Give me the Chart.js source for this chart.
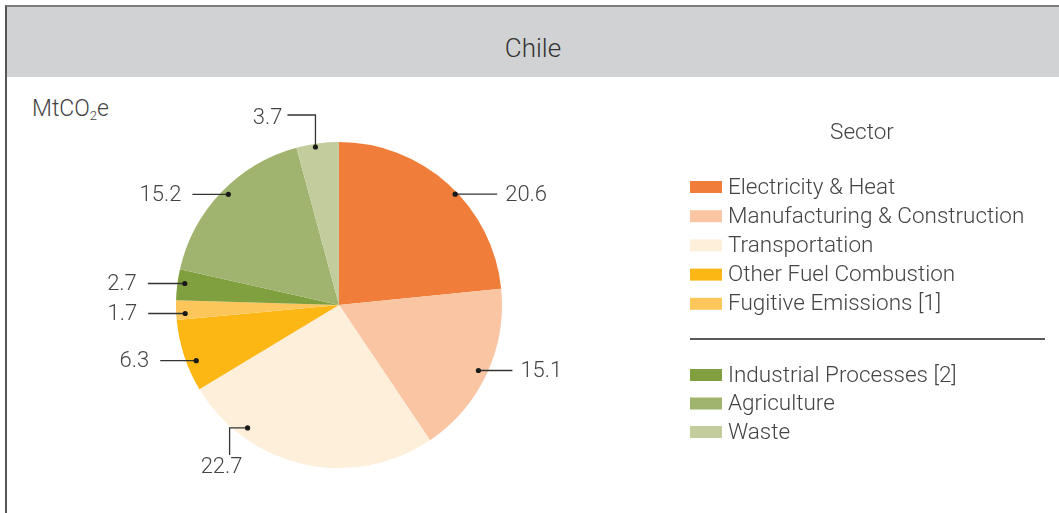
<!DOCTYPE html>
<html lang="en">
<head>
    <meta charset="UTF-8">
    <title>Chile - Emissions by Sector</title>
    <script src="https://cdn.jsdelivr.net/npm/chart.js"></script>
    <style>
        body { margin: 0; background: #fff; font-family: Roboto, "Liberation Sans", sans-serif; }
        .frame {
            position: absolute; left: 5px; top: 5px; width: 1060px; height: 520px;
            border-top: 2px solid #7c7c7c; border-left: 2px solid #555;
        }
        .header {
            height: 70px; background: #d1d2d4; color: #333; box-sizing: border-box;
            font-size: 26px; font-weight: 300; text-align: center;
            padding-top: 12px; line-height: 58px; padding-right: 8px;
        }
        .unit {
            position: absolute; left: 25px; top: 88px; font-size: 23px; font-weight: 300; color: #444;
        }
        .unit sub { font-size: 13px; vertical-align: -4px; }
        .chart-box { position: absolute; left: 0; top: 70px; width: 1052px; height: 436px; }
    </style>
</head>
<body>
    <div class="frame">
        <div class="header">Chile</div>
        <div class="unit">MtCO<sub>2</sub>e</div>
        <div class="chart-box"><canvas id="pieChart"></canvas></div>
    </div>

    <script>
        // data
        const categories = ["Electricity & Heat", "Manufacturing & Construction", "Transportation",
            "Other Fuel Combustion", "Fugitive Emissions [1]", "Industrial Processes [2]", "Agriculture", "Waste"];
        const values = [20.6, 15.1, 22.7, 6.3, 1.7, 2.7, 15.2, 3.7];
        const legendGroups = [5, 3];
        const legendTitle = "Sector";

        const colors = ["#f07d39", "#f9c5a3", "#feefdb", "#fdb714", "#fdc65a", "#809f3e", "#a1b46f", "#c2cc9d"];

        // where each leader dot sits inside its slice and how the label is drawn
        const labelStyle = [
            { frac: 0.55, rf: 0.985, kind: "right", len: 42 },
            { frac: 0.50, rf: 0.945, kind: "right", len: 34 },
            { frac: 0.76, rf: 0.94, kind: "down" },
            { frac: 0.38, rf: 0.94, kind: "left", len: 36 },
            { frac: 0.31, rf: 0.945, kind: "left", len: 37 },
            { frac: 0.57, rf: 0.955, kind: "left", len: 37 },
            { frac: 0.52, rf: 0.96, kind: "left", len: 36 },
            { frac: 0.44, rf: 0.98, kind: "up" }
        ];

        const labelFont = "300 22px Roboto, 'Liberation Sans', sans-serif";
        const textColor = "#444";

        const leaderPlugin = {
            id: "leaders",
            afterDatasetsDraw(chart) {
                const ctx = chart.ctx;
                const meta = chart.getDatasetMeta(0);
                ctx.save();
                ctx.font = labelFont;
                ctx.strokeStyle = "#333";
                ctx.lineWidth = 1.3;
                meta.data.forEach((arc, i) => {
                    const s = labelStyle[i];
                    const p = arc.getProps(["x", "y", "startAngle", "endAngle", "outerRadius"], true);
                    const a = p.startAngle + s.frac * (p.endAngle - p.startAngle);
                    const dx = p.x + Math.cos(a) * p.outerRadius * s.rf;
                    const dy = p.y + Math.sin(a) * p.outerRadius * s.rf;
                    const txt = values[i].toFixed(1);

                    ctx.beginPath();
                    if (s.kind === "right") {
                        ctx.moveTo(dx, dy); ctx.lineTo(dx + s.len, dy); ctx.stroke();
                        ctx.fillStyle = textColor; ctx.textAlign = "left"; ctx.textBaseline = "middle";
                        ctx.fillText(txt, dx + s.len + 8, dy + 1);
                    } else if (s.kind === "left") {
                        ctx.moveTo(dx, dy); ctx.lineTo(dx - s.len, dy); ctx.stroke();
                        ctx.fillStyle = textColor; ctx.textAlign = "right"; ctx.textBaseline = "middle";
                        ctx.fillText(txt, dx - s.len - 11, dy + 1);
                    } else if (s.kind === "up") {
                        ctx.moveTo(dx, dy); ctx.lineTo(dx, dy - 32); ctx.lineTo(dx - 28, dy - 32); ctx.stroke();
                        ctx.fillStyle = textColor; ctx.textAlign = "right"; ctx.textBaseline = "middle";
                        ctx.fillText(txt, dx - 33, dy - 29);
                    } else {
                        ctx.moveTo(dx, dy); ctx.lineTo(dx - 18, dy); ctx.lineTo(dx - 18, dy + 27); ctx.stroke();
                        ctx.fillStyle = textColor; ctx.textAlign = "center"; ctx.textBaseline = "top";
                        ctx.fillText(txt, dx - 26, dy + 29);
                    }
                    ctx.beginPath();
                    ctx.fillStyle = "#1a1a1a";
                    ctx.arc(dx, dy, 2.6, 0, Math.PI * 2);
                    ctx.fill();
                });
                ctx.restore();
            }
        };

        // legend in two groups with a rule between them
        const groupLegendPlugin = {
            id: "groupLegend",
            afterDraw(chart) {
                const ctx = chart.ctx;
                const x0 = 683, boxW = 32, boxH = 12;
                ctx.save();
                ctx.font = "300 22.5px Roboto, 'Liberation Sans', sans-serif";
                ctx.fillStyle = textColor;
                ctx.textAlign = "center"; ctx.textBaseline = "middle";
                ctx.fillText(legendTitle, 855, 56);

                let y = 110, idx = 0;
                legendGroups.forEach((n, g) => {
                    for (let k = 0; k < n; k++, idx++) {
                        ctx.fillStyle = colors[idx];
                        ctx.fillRect(x0, y - boxH / 2, boxW, boxH);
                        ctx.fillStyle = textColor; ctx.textAlign = "left";
                        ctx.fillText(categories[idx], x0 + 38, y + 1);
                        y += g === 0 ? 29.2 : 28.5;
                    }
                    if (g < legendGroups.length - 1) {
                        const ly = y + 6;
                        ctx.strokeStyle = "#222"; ctx.lineWidth = 1.3;
                        ctx.beginPath(); ctx.moveTo(x0, ly); ctx.lineTo(1038, ly); ctx.stroke();
                        y = ly + 36;
                    }
                });
                ctx.restore();
            }
        };

        const ctx = document.getElementById("pieChart").getContext("2d");
        new Chart(ctx, {
            type: "pie",
            data: {
                labels: categories,
                datasets: [{
                    data: values,
                    backgroundColor: colors,
                    borderWidth: 0
                }]
            },
            options: {
                responsive: true,
                maintainAspectRatio: false,
                animation: false,
                layout: { padding: { top: 65, bottom: 45, left: 169, right: 557 } },
                plugins: { legend: { display: false }, tooltip: { enabled: false } }
            },
            plugins: [leaderPlugin, groupLegendPlugin]
        });
    </script>
</body>
</html>
